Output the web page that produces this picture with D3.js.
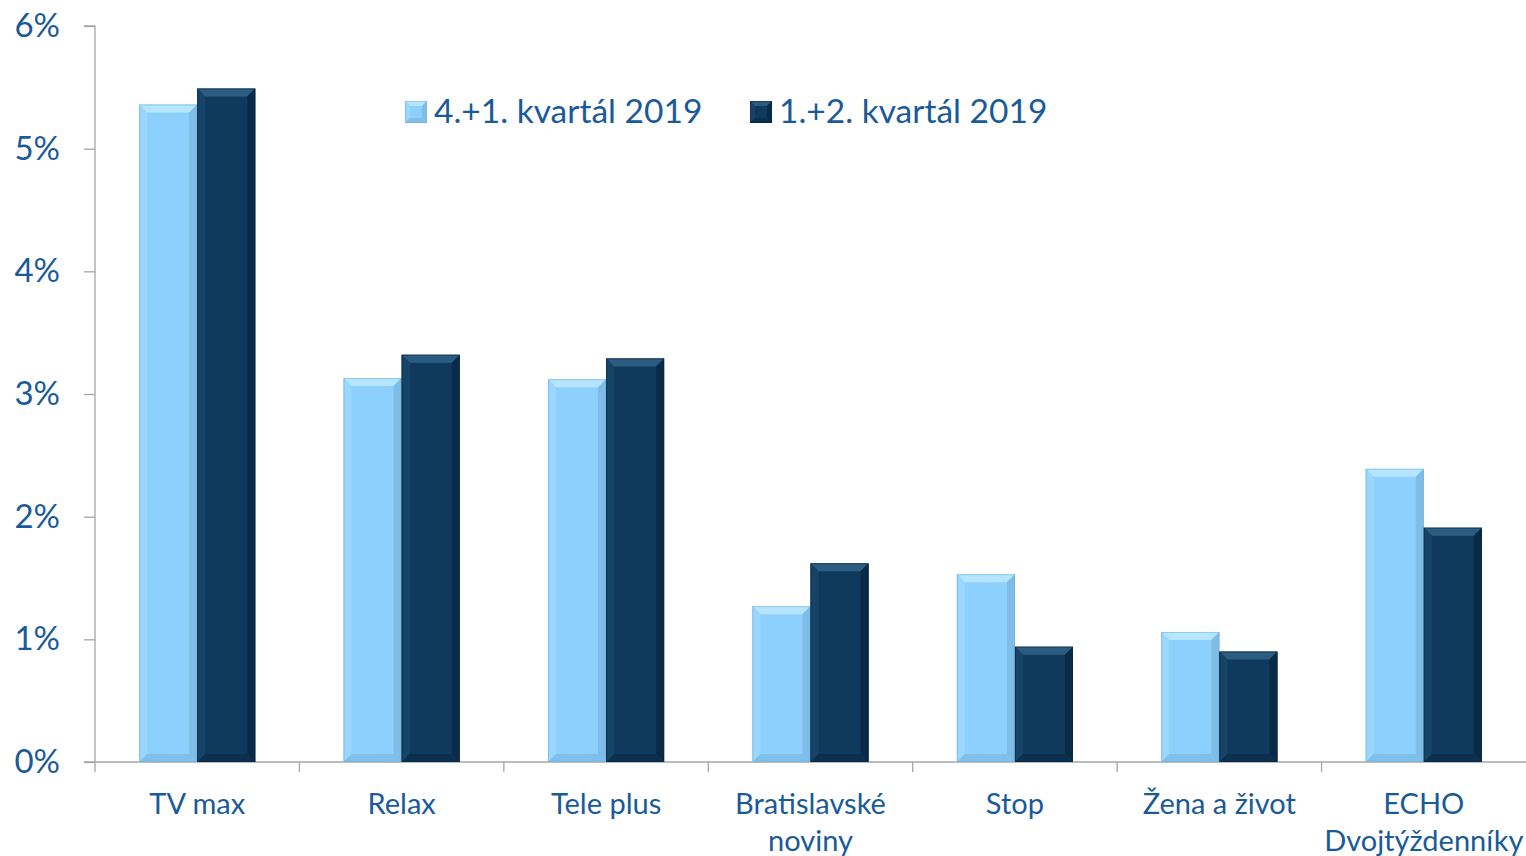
<!DOCTYPE html>
<html><head><meta charset="utf-8">
<script src="https://cdn.jsdelivr.net/npm/d3@7"></script>
<style>body{margin:0;background:#fff;}svg{display:block;}</style>
</head><body>
<svg id="c" width="1526" height="856"></svg>
<script>
const categories = [["TV max"],["Relax"],["Tele plus"],["Bratislavské","noviny"],["Stop"],["Žena a život"],["ECHO","Dvojtýždenníky"]];
const seriesNames = ["4.+1. kvartál 2019","1.+2. kvartál 2019"];
const series1 = [5.36, 3.13, 3.12, 1.27, 1.53, 1.06, 2.39];
const series2 = [5.49, 3.32, 3.29, 1.62, 0.94, 0.90, 1.91];
const yTicks = [0,1,2,3,4,5,6];

const W=1526,H=856, x0=95, x1=1526, yTop=26, yBot=762;
const txt="#1A5A98", axisCol="#A6A6A6";
const font="Lato, 'Open Sans', sans-serif";
const svg=d3.select("#c");
const keys=categories.map((d,i)=>i);
const x=d3.scaleBand().domain(keys).range([x0,x1]).paddingInner(0).paddingOuter(0);
const xs=d3.scaleBand().domain([0,1]).range([0,x.bandwidth()]).paddingInner(0).paddingOuter(0.76);
const y=d3.scaleLinear().domain([0,6]).range([yBot,yTop]);

const colors=[{fill:"#8ED0FD",top:"#B6E6FF",left:"#9AD7FF",right:"#7DBDE8",bot:"#7FC0EA",edge:"#6FA9D2"},
              {fill:"#0F3A5E",top:"#2C5C82",left:"#164468",right:"#0A2B47",bot:"#0B304F",edge:"#08233A"}];

// axes
const yAxis=d3.axisLeft(y).tickValues(yTicks).tickFormat(d=>d+"%").tickSize(11).tickPadding(24);
const gy=svg.append("g").attr("transform",`translate(${x0},0)`).call(yAxis);
gy.select(".domain").attr("stroke",axisCol).attr("stroke-width",1.3).attr("d",`M-11,${yTop}H0V${yBot}`);
gy.selectAll(".tick line").attr("stroke",axisCol).attr("stroke-width",1.3);
gy.selectAll(".tick text").attr("fill",txt).style("font-family",font).style("font-size","33px");

const xAxisG=svg.append("g").attr("transform",`translate(0,${yBot})`);
xAxisG.append("line").attr("x1",x0-11).attr("x2",x1).attr("stroke",axisCol).attr("stroke-width",1.3);
xAxisG.selectAll("line.t").data(keys).enter().append("line").attr("class","t")
  .attr("x1",d=>x(d)).attr("x2",d=>x(d)).attr("y1",0).attr("y2",10).attr("stroke",axisCol).attr("stroke-width",1.3);

// bars with bevel
function bevelBar(g,bx,by,bw,bh,c,bev){
  const b=Math.min(bev,bh/2);
  g.append("rect").attr("x",bx).attr("y",by).attr("width",bw).attr("height",bh).attr("fill",c.fill);
  g.append("path").attr("d",`M${bx},${by}H${bx+bw}L${bx+bw-b},${by+b}H${bx+b}Z`).attr("fill",c.top);
  g.append("path").attr("d",`M${bx},${by}L${bx+b},${by+b}V${by+bh-b}L${bx},${by+bh}Z`).attr("fill",c.left);
  g.append("path").attr("d",`M${bx+bw},${by}L${bx+bw-b},${by+b}V${by+bh-b}L${bx+bw},${by+bh}Z`).attr("fill",c.right);
  g.append("path").attr("d",`M${bx},${by+bh}L${bx+b},${by+bh-b}H${bx+bw-b}L${bx+bw},${by+bh}Z`).attr("fill",c.bot);
  g.append("rect").attr("x",bx+0.5).attr("y",by+0.5).attr("width",bw-1).attr("height",bh-1).attr("fill","none").attr("stroke",c.edge).attr("stroke-opacity",0.5);
}
const barsG=svg.append("g");
[series1,series2].forEach((s,si)=>{
  s.forEach((v,i)=>{
    const bx=x(i)+xs(si), bw=xs.bandwidth(), by=y(v), bh=y(0)-y(v);
    bevelBar(barsG.append("g"),bx,by,bw,bh,colors[si],8);
  });
});

// category labels
const lab=svg.append("g");
categories.forEach((lines,i)=>{
  const t=lab.append("text").attr("x",x(i)+x.bandwidth()/2).attr("y",814).attr("text-anchor","middle")
   .attr("fill",txt).style("font-family",font).style("font-size","29px");
  lines.forEach((l,j)=>t.append("tspan").attr("x",x(i)+x.bandwidth()/2).attr("dy",j?37:0).text(l));
});

// legend
const legX=[405,750];
seriesNames.forEach((n,i)=>{
  const g=svg.append("g");
  bevelBar(g,legX[i],101,22,22,colors[i],5);
  g.append("text").attr("x",legX[i]+29).attr("y",123).attr("fill",txt).style("font-family",font).style("font-size","33.5px").text(n);
});
</script>
</body></html>
